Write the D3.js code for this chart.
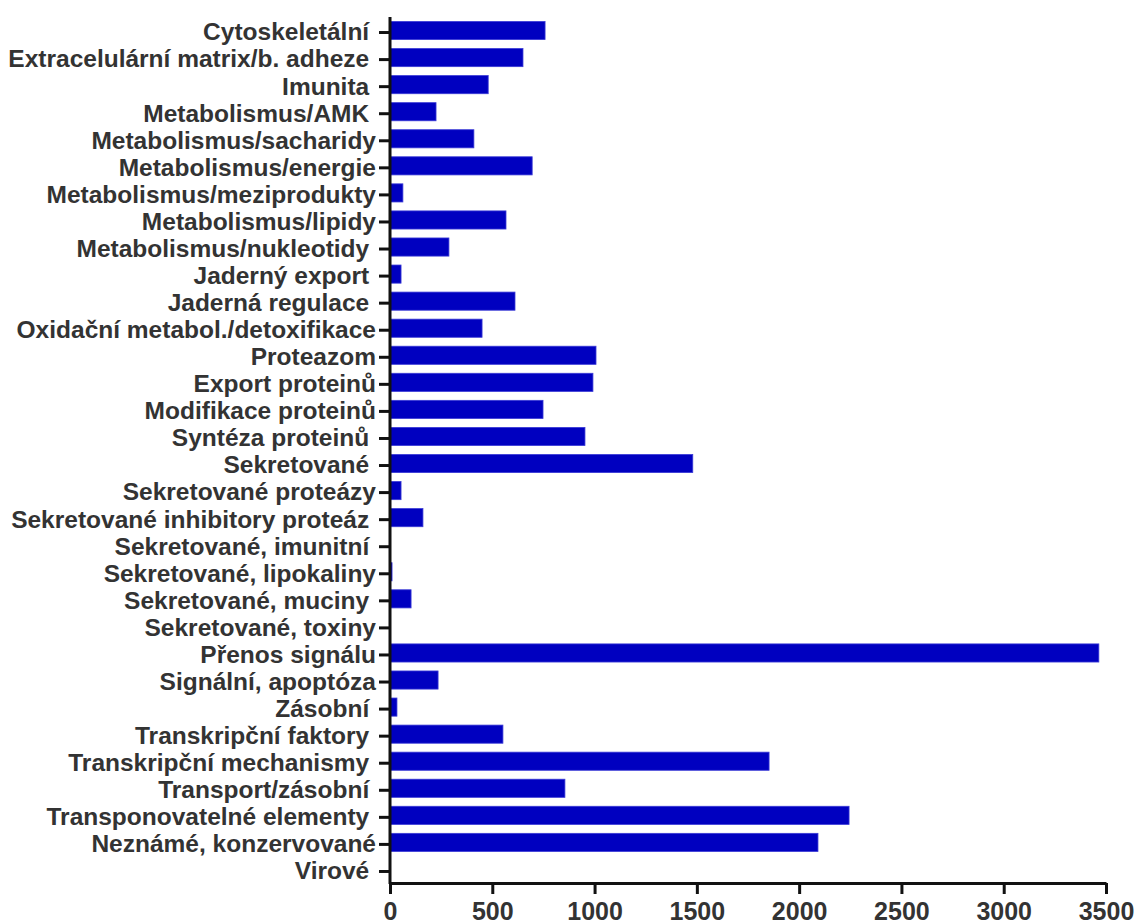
<!DOCTYPE html>
<html>
<head>
<meta charset="utf-8">
<script src="https://cdn.jsdelivr.net/npm/d3@7"></script>
<style>
  html, body { margin: 0; padding: 0; background: #fff; }
  svg { display: block; }
  .ylab text { white-space: pre; }
</style>
</head>
<body>
<svg id="chart"></svg>
<script>
const categories = [
  'Cytoskeletální ',
  'Extracelulární matrix/b. adheze ',
  'Imunita ',
  'Metabolismus/AMK ',
  'Metabolismus/sacharidy',
  'Metabolismus/energie',
  'Metabolismus/meziprodukty',
  'Metabolismus/lipidy',
  'Metabolismus/nukleotidy ',
  'Jaderný export ',
  'Jaderná regulace ',
  'Oxidační metabol./detoxifikace',
  'Proteazom',
  'Export proteinů',
  'Modifikace proteinů',
  'Syntéza proteinů ',
  'Sekretované ',
  'Sekretované proteázy',
  'Sekretované inhibitory proteáz ',
  'Sekretované, imunitní ',
  'Sekretované, lipokaliny',
  'Sekretované, muciny ',
  'Sekretované, toxiny',
  'Přenos signálu',
  'Signální, apoptóza',
  'Zásobní ',
  'Transkripční faktory ',
  'Transkripční mechanismy ',
  'Transport/zásobní ',
  'Transponovatelné elementy ',
  'Neznámé, konzervované',
  'Virové '
];
const counts = [
  758, 650, 480, 225, 410, 695, 63, 567, 288, 54, 611, 450,
  1007, 992, 748, 953, 1480, 54, 161, 0, 10, 103, 0, 3465,
  235, 34, 552, 1853, 855, 2244, 2092, 0
];
const xTicks = [0, 500, 1000, 1500, 2000, 2500, 3000, 3500];

const W = 1145, H = 924;
const svg = d3.select('#chart').attr('width', W).attr('height', H);

const x = d3.scaleLinear().domain([0, 3500]).range([390, 1106]);
const y = d3.scaleBand().domain(categories).range([17, 883])
  .paddingInner(0.33).paddingOuter(0.165);

const data = categories.map((c, i) => ({ cat: c, v: counts[i] }));

svg.append('g').selectAll('rect')
  .data(data)
  .join('rect')
  .attr('x', x(0))
  .attr('y', d => y(d.cat))
  .attr('width', d => x(d.v) - x(0))
  .attr('height', y.bandwidth())
  .attr('fill', '#0000c0')
  .attr('stroke', '#3a3ad6')
  .attr('stroke-width', d => d.v > 0 ? 0.8 : 0);

// y axis
const yAxis = svg.append('g')
  .attr('class', 'ylab')
  .attr('transform', `translate(${x(0)},2)`)
  .call(d3.axisLeft(y).tickSize(11).tickPadding(3));
yAxis.select('.domain').remove();
yAxis.selectAll('.tick line').attr('stroke', '#111').attr('stroke-width', 3);
yAxis.selectAll('.tick text')
  .attr('fill', '#333')
  .style('font-family', '"Liberation Sans", Arial, sans-serif')
  .style('font-weight', 'bold')
  .style('font-size', '24.5px');

svg.append('line')
  .attr('x1', x(0)).attr('x2', x(0))
  .attr('y1', 17).attr('y2', 884)
  .attr('stroke', '#111').attr('stroke-width', 3);

// x axis
const xAxis = svg.append('g')
  .attr('transform', 'translate(0,883)')
  .call(d3.axisBottom(x).tickValues(xTicks).tickSize(11).tickSizeOuter(0).tickPadding(8)
    .tickFormat(d3.format('d')));
xAxis.select('.domain').attr('stroke', '#111').attr('stroke-width', 3);
xAxis.selectAll('.tick line').attr('stroke', '#111').attr('stroke-width', 3);
xAxis.selectAll('.tick text')
  .attr('fill', '#333')
  .style('font-family', '"Liberation Sans", Arial, sans-serif')
  .style('font-weight', 'bold')
  .style('font-size', '25px');
</script>
</body>
</html>
